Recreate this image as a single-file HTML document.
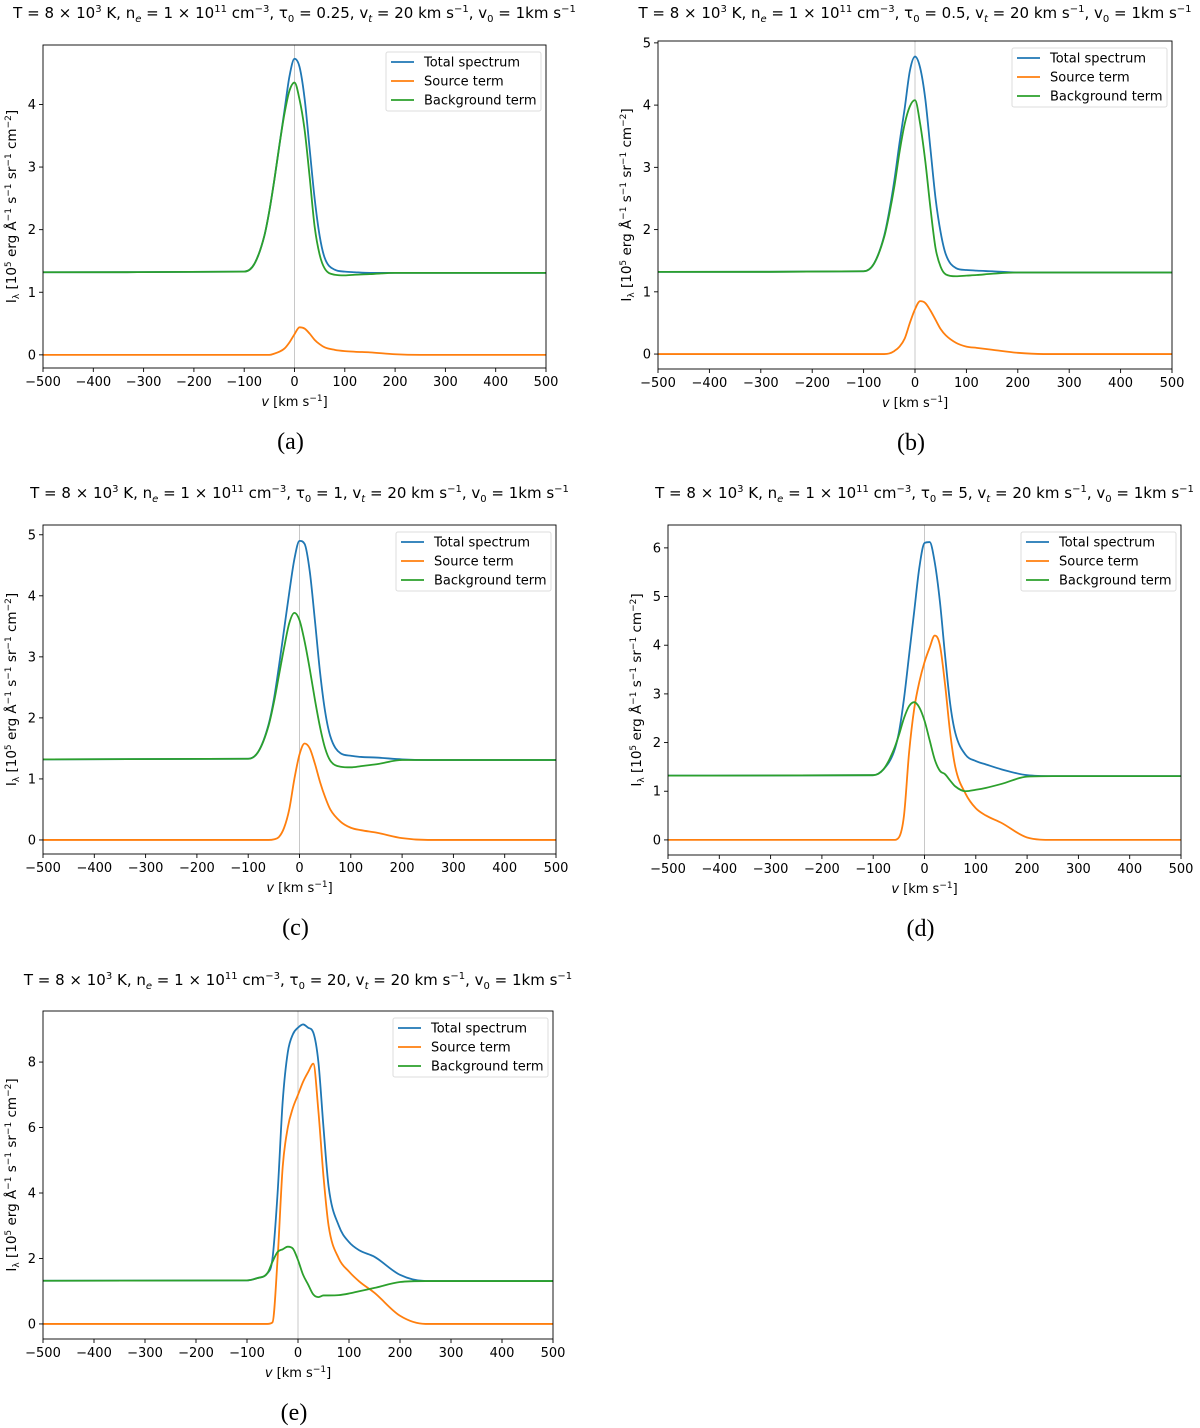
<!DOCTYPE html>
<html><head><meta charset="utf-8"><style>
html,body{margin:0;padding:0;background:#fff;}
svg{display:block;font-family:"DejaVu Sans","Liberation Sans",sans-serif;}
</style></head><body>
<svg id="fig" width="1200" height="1428" viewBox="0 0 1200 1428" xmlns="http://www.w3.org/2000/svg"></svg>
<script>
const vel = [-500,-100,-80,-60,-50,-40,-30,-20,-10,0,10,20,30,40,50,60,80,100,120,150,200,250,500];
const xTicks = [-500,-400,-300,-200,-100,0,100,200,300,400,500];
const xTickLabels = ["−500","−400","−300","−200","−100","0","100","200","300","400","500"];

const totalA = [1.32,1.33,1.45,1.9,2.3,2.8,3.35,3.9,4.45,4.73,4.6,4.1,3.3,2.5,1.9,1.55,1.36,1.33,1.32,1.31,1.31,1.31,1.31];
const bgA    = [1.32,1.33,1.45,1.9,2.3,2.8,3.35,3.85,4.22,4.35,4.08,3.6,2.85,2.05,1.6,1.38,1.28,1.27,1.28,1.29,1.31,1.31,1.31];
const srcA   = [0,0,0,0,0,0.02,0.05,0.1,0.2,0.33,0.44,0.42,0.34,0.24,0.17,0.12,0.08,0.06,0.05,0.04,0.01,0,0];

const totalB = [1.32,1.33,1.45,1.9,2.3,2.8,3.4,3.95,4.55,4.78,4.6,4.1,3.3,2.5,1.95,1.6,1.38,1.35,1.34,1.33,1.31,1.31,1.31];
const bgB    = [1.32,1.33,1.45,1.88,2.25,2.7,3.25,3.7,3.98,4.08,3.7,3.1,2.35,1.7,1.4,1.28,1.25,1.26,1.27,1.29,1.31,1.31,1.31];
const srcB   = [0,0,0,0,0.01,0.05,0.12,0.25,0.5,0.72,0.85,0.82,0.7,0.55,0.4,0.3,0.18,0.12,0.1,0.07,0.02,0,0];

const totalC = [1.32,1.33,1.45,1.9,2.3,2.85,3.45,4.05,4.6,4.9,4.85,4.4,3.6,2.75,2.1,1.7,1.42,1.38,1.36,1.35,1.32,1.31,1.31];
const bgC    = [1.32,1.33,1.45,1.88,2.25,2.7,3.15,3.55,3.72,3.6,3.25,2.8,2.3,1.85,1.5,1.3,1.2,1.19,1.21,1.24,1.31,1.31,1.31];
const srcC   = [0,0,0,0,0.01,0.05,0.2,0.5,1.0,1.4,1.58,1.5,1.25,0.95,0.7,0.5,0.3,0.2,0.16,0.12,0.03,0,0];

const totalD = [1.32,1.33,1.45,1.8,2.2,2.9,3.8,4.7,5.6,6.1,6.12,5.7,4.9,3.8,2.8,2.2,1.75,1.62,1.55,1.45,1.33,1.31,1.31];
const bgD    = [1.32,1.33,1.45,1.85,2.15,2.5,2.75,2.83,2.72,2.45,2.05,1.65,1.42,1.35,1.22,1.1,1.0,1.03,1.07,1.15,1.3,1.31,1.31];
const srcD   = [0,0,0,0,0.05,0.5,1.8,2.7,3.25,3.65,3.95,4.2,4.0,3.2,2.2,1.5,0.95,0.65,0.5,0.35,0.05,0,0];

const totalE = [1.32,1.33,1.4,1.55,2.0,4.0,6.8,8.3,8.85,9.05,9.15,9.05,8.9,8.0,6.0,4.2,3.0,2.5,2.25,2.05,1.5,1.31,1.31];
const bgE    = [1.32,1.33,1.4,1.55,1.9,2.2,2.28,2.36,2.3,1.95,1.5,1.2,0.9,0.82,0.87,0.87,0.88,0.93,1.0,1.1,1.28,1.31,1.31];
const srcE   = [0,0,0,0,0.05,2.0,4.8,6.0,6.6,7.0,7.4,7.7,7.95,6.5,4.5,3.0,2.0,1.6,1.3,0.95,0.25,0,0];

const yTicksA = [0,1,2,3,4];
const yTicksB = [0,1,2,3,4,5];
const yTicksC = [0,1,2,3,4,5];
const yTicksD = [0,1,2,3,4,5,6];
const yTicksE = [0,2,4,6,8];

const panels = [
 {id:'a',tau:'0.25',x0:43,x1:546,y0:45,y1:368,ty:18,ymin:-0.21,ymax:4.95,total:totalA,bg:bgA,src:srcA,yt:yTicksA},
 {id:'b',tau:'0.5',x0:658,x1:1172,y0:41,y1:369,ty:18,ymin:-0.24,ymax:5.03,total:totalB,bg:bgB,src:srcB,yt:yTicksB},
 {id:'c',tau:'1',x0:43,x1:556,y0:525,y1:854,ty:498,ymin:-0.23,ymax:5.16,total:totalC,bg:bgC,src:srcC,yt:yTicksC},
 {id:'d',tau:'5',x0:668,x1:1181,y0:525,y1:855,ty:498,ymin:-0.31,ymax:6.47,total:totalD,bg:bgD,src:srcD,yt:yTicksD},
 {id:'e',tau:'20',x0:43,x1:553,y0:1011,y1:1339,ty:985,ymin:-0.46,ymax:9.56,total:totalE,bg:bgE,src:srcE,yt:yTicksE}
];

const NS='http://www.w3.org/2000/svg';
const svg=document.getElementById('fig');
function mk(tag,attrs,parent){const e=document.createElementNS(NS,tag);for(const k in attrs)e.setAttribute(k,attrs[k]);(parent||svg).appendChild(e);return e;}

function monoPath(xs,ys){
 const n=xs.length,d=[],m=[];
 for(let i=0;i<n-1;i++)d.push((ys[i+1]-ys[i])/(xs[i+1]-xs[i]));
 m[0]=d[0];m[n-1]=d[n-2];
 for(let i=1;i<n-1;i++){m[i]=(d[i-1]*d[i]<=0)?0:(d[i-1]+d[i])/2;}
 for(let i=0;i<n-1;i++){if(d[i]===0){m[i]=0;m[i+1]=0;continue;}const a=m[i]/d[i],b=m[i+1]/d[i],s=a*a+b*b;if(s>9){const t=3/Math.sqrt(s);m[i]=t*a*d[i];m[i+1]=t*b*d[i];}}
 let p='M'+xs[0].toFixed(2)+','+ys[0].toFixed(2);
 for(let i=0;i<n-1;i++){const h=(xs[i+1]-xs[i])/3;p+=' C'+(xs[i]+h).toFixed(2)+','+(ys[i]+m[i]*h).toFixed(2)+' '+(xs[i+1]-h).toFixed(2)+','+(ys[i+1]-m[i+1]*h).toFixed(2)+' '+xs[i+1].toFixed(2)+','+ys[i+1].toFixed(2);}
 return p;
}

panels.forEach(P=>{
 const g=mk('g',{});
 
 
 const sx=v=>P.x0+(v+500)/1000*(P.x1-P.x0);
 const sy=y=>P.y1-(y-P.ymin)/(P.ymax-P.ymin)*(P.y1-P.y0);
 const cx=(P.x0+P.x1)/2, cy=(P.y0+P.y1)/2;
 const t=mk('text',{x:cx,y:P.ty,'text-anchor':'middle','font-size':'15'},g);
 
 
 t.innerHTML='T = 8 × 10<tspan dy="-6" font-size="10">3</tspan><tspan dy="6"> K, n</tspan><tspan dy="4" font-size="10" font-style="italic">e</tspan><tspan dy="-4"> = 1 × 10</tspan><tspan dy="-6" font-size="10">11</tspan><tspan dy="6"> cm</tspan><tspan dy="-6" font-size="10">−3</tspan><tspan dy="6">, τ</tspan><tspan dy="4" font-size="10">0</tspan><tspan dy="-4"> = '+P.tau+', v</tspan><tspan dy="4" font-size="10" font-style="italic">t</tspan><tspan dy="-4"> = 20 km s</tspan><tspan dy="-6" font-size="10">−1</tspan><tspan dy="6">, v</tspan><tspan dy="4" font-size="10">0</tspan><tspan dy="-4"> = 1km s</tspan><tspan dy="-6" font-size="10">−1</tspan>';
 const zl=mk('line',{x1:sx(0),x2:sx(0),y1:P.y0,y2:P.y1,stroke:'#c8c8c8','stroke-width':'1'},g);
 
 
 const xs=vel.map(sx);
 [['total','#1f77b4','total-spectrum-line'],['src','#ff7f0e','source-term-line'],['bg','#2ca02c','background-term-line']].forEach(s=>{
   const p=mk('path',{d:monoPath(xs,P[s[0]].map(sy)),fill:'none',stroke:s[1],'stroke-width':'1.8'},g);
   
   
 });
 const fr=mk('rect',{x:P.x0,y:P.y0,width:P.x1-P.x0,height:P.y1-P.y0,fill:'none',stroke:'#000','stroke-width':'0.9'},g);
 
 
 xTicks.forEach((v,i)=>{
   mk('line',{x1:sx(v),x2:sx(v),y1:P.y1,y2:P.y1+4,stroke:'#000','stroke-width':'0.9'},g);
   const tl=mk('text',{x:sx(v),y:P.y1+18,'text-anchor':'middle','font-size':'13'},g);
   
   
   tl.textContent=xTickLabels[i];
 });
 P.yt.forEach(v=>{
   mk('line',{x1:P.x0-4,x2:P.x0,y1:sy(v),y2:sy(v),stroke:'#000','stroke-width':'0.9'},g);
   const tl=mk('text',{x:P.x0-7,y:sy(v)+4.5,'text-anchor':'end','font-size':'13'},g);
   
   
   tl.textContent=String(v);
 });
 const xl=mk('text',{x:cx,y:P.y1+38,'text-anchor':'middle','font-size':'13'},g);
 
 
 xl.innerHTML='<tspan font-style="italic">v</tspan> [km s<tspan dy="-5" font-size="9">−1</tspan><tspan dy="5">]</tspan>';
 const yl=mk('text',{x:0,y:0,'text-anchor':'middle','font-size':'13.5',transform:'translate('+(P.x0-27)+','+cy+') rotate(-90)'},g);
 
 
 yl.innerHTML='I<tspan dy="3" font-size="9">λ</tspan><tspan dy="-3"> [10</tspan><tspan dy="-5" font-size="9">5</tspan><tspan dy="5"> erg Å</tspan><tspan dy="-5" font-size="9">−1</tspan><tspan dy="5"> s</tspan><tspan dy="-5" font-size="9">−1</tspan><tspan dy="5"> sr</tspan><tspan dy="-5" font-size="9">−1</tspan><tspan dy="5"> cm</tspan><tspan dy="-5" font-size="9">−2</tspan><tspan dy="5">]</tspan>';
 const lx=P.x1-160, ly=P.y0+7;
 const lg=mk('g',{},g);
 
 
 mk('rect',{x:lx,y:ly,width:155,height:59,rx:2,fill:'#fff',stroke:'#dcdcdc','stroke-width':'1'},lg);
 [['Total spectrum','#1f77b4'],['Source term','#ff7f0e'],['Background term','#2ca02c']].forEach((e,i)=>{
   const ey=ly+10+i*19;
   const le=mk('g',{},lg);
   
   
   mk('line',{x1:lx+5,x2:lx+28,y1:ey,y2:ey,stroke:e[1],'stroke-width':'1.8'},le);
   const tx=mk('text',{x:lx+38,y:ey+4.5,'font-size':'13'},le);
   tx.textContent=e[0];
 });
 const cp=mk('text',{x:cx-4,y:P.y1+81,'text-anchor':'middle','font-size':'24','font-family':'"Liberation Serif",serif'},g);
 
 
 cp.textContent='('+P.id+')';
});
</script>
</body></html>
